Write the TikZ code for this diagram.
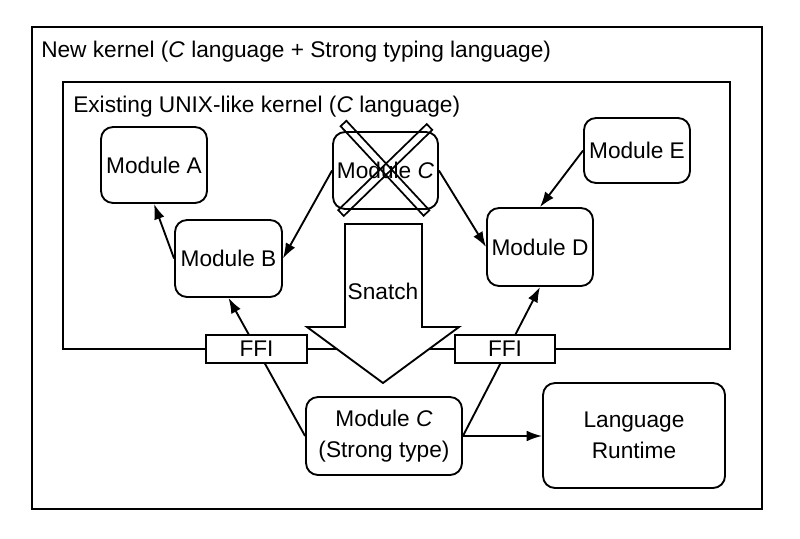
\documentclass[tikz,border=0pt]{standalone}
\usepackage{fontspec}
\setmainfont{Liberation Sans}
\usetikzlibrary{positioning}
\usetikzlibrary{arrows.meta}

\begin{document}
\begin{tikzpicture}[
    x=0.75pt, y=-0.75pt,
    frame/.style={rectangle, draw, line width=1.8pt, inner sep=0pt},
    module/.style={rectangle, draw, line width=1.4pt, rounded corners=9pt, align=center, inner sep=0pt, font=\fontsize{17}{23}\selectfont},
    ffi/.style={rectangle, draw, fill=white, line width=1.4pt, inner sep=0pt, minimum width=75.5pt, minimum height=21pt, font=\fontsize{17}{20}\selectfont},
    bar/.style={draw, line width=1.3pt},
    arr/.style={-{Latex[length=11.5pt,width=8pt]}, line width=1.4pt},
    lbl/.style={anchor=base west, inner sep=0pt, font=\fontsize{17}{20}\selectfont}
]
    \useasboundingbox (0,0) rectangle (800,539);

    % Kernels
    \node[frame, minimum width=547.5pt, minimum height=361.5pt] (newk) at (397,268) {};
    \node[lbl] (newklbl) at (41,57) {New kernel (\textit{C} language + Strong typing language)};
    \node[frame, line width=1.5pt, minimum width=500.25pt, minimum height=200.25pt] (oldk) at (396.5,215.5) {};
    \node[lbl] (oldklbl) at (73,112) {Existing UNIX-like kernel (\textit{C} language)};

    % Modules of the existing kernel
    \node[module, minimum width=79.5pt, minimum height=57pt] (modA) at (154,165) {Module A};
    \node[module, minimum width=80.25pt, minimum height=57.75pt] (modB) at (228.5,258.5) {Module B};
    \node[module, minimum width=78.75pt, minimum height=57.75pt] (modC) at (385.5,170.5) {Module \textit{C}};
    \node[module, minimum width=79.5pt, minimum height=58.5pt] (modD) at (540,247) {Module D};
    \node[module, minimum width=79.5pt, minimum height=48.75pt] (modE) at (637,150.5) {Module E};

    % Cross over Module C
    \draw[bar] (340.6,126.2) -- (346.4,120.8) -- (429.4,210.3) -- (423.6,215.7) -- cycle;
    \draw[bar] (432.3,129.9) -- (426.7,124.1) -- (338.2,210.1) -- (343.8,215.9) -- cycle;

    % New modules
    \node[module, minimum width=117pt, minimum height=58.5pt] (modCs) at (384,436) {Module \textit{C}\\(Strong type)};
    \node[module, minimum width=136.5pt, minimum height=78.75pt] (runtime) at (634,435.5) {Language\\Runtime};

    % Calls
    \draw[arr] (modB.west) -- (modA.south);
    \draw[arr] (modC.west) -- (modB.east);
    \draw[arr] (modC.east) -- (modD.west);
    \draw[arr] (modE.west) -- (modD.north);
    \draw[arr] (modCs.west) -- (modB.south);
    \draw[arr] (modCs.east) -- (modD.south);
    \draw[arr] (modCs.east) -- (modCs.east -| runtime.west);

    % Snatch arrow
    \draw[line width=1.4pt, fill=white] (345,224) -- (422,224) -- (422,327) -- (459,327)
        -- (383,383) -- (307,327) -- (345,327) -- cycle;
    \node[font=\fontsize{17}{20}\selectfont] (snatch) at (383,291) {Snatch};

    % FFI
    \node[ffi] (ffiL) at (256.5,349) {FFI};
    \node[ffi] (ffiR) at (505,349) {FFI};
\end{tikzpicture}
\end{document}
